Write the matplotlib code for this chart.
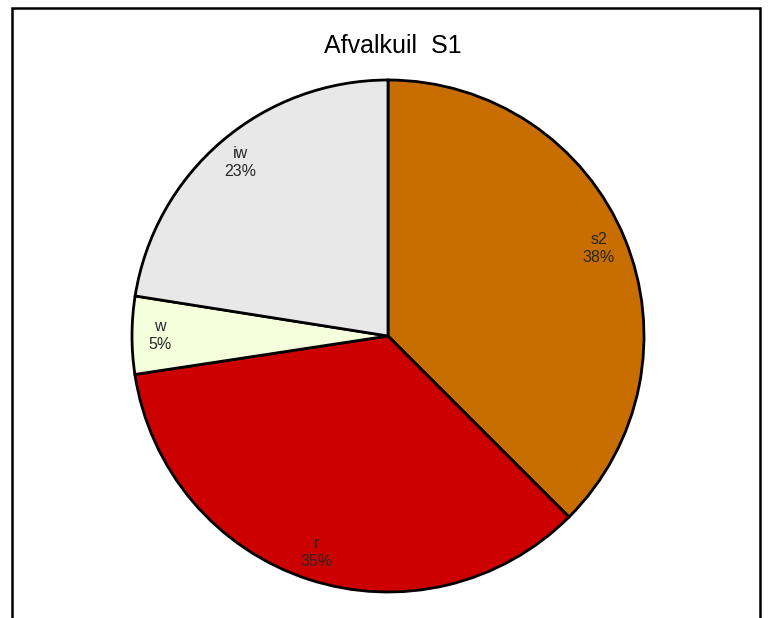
import matplotlib.pyplot as plt
from matplotlib.patches import Rectangle
import numpy as np

# data
categorieen = ['s2', 'r', 'w', 'iw']
aandeel = [37.5, 35.1, 4.9, 22.5]
kleuren = ['#C86E00', '#CC0000', '#F5FFDC', '#E8E8E8']
titel = 'Afvalkuil  S1'

W, H = 768, 618
fig = plt.figure(figsize=(W / 100, H / 100), dpi=100)
plt.rcParams['font.family'] = ['Liberation Sans', 'DejaVu Sans']

# frame around the plot area (bottom edge runs off the image)
fig.patches.append(Rectangle((12 / W, -0.05), (760 - 12) / W, 1.05 - 8 / H,
                             transform=fig.transFigure, fill=False,
                             edgecolor='black', linewidth=1.8, clip_on=False))

# pie centre and radius in pixels
cx, cy, R = 388, H - 336, 256
pad = 1.05
ax = fig.add_axes([(cx - R * pad) / W, (cy - R * pad) / H, 2 * R * pad / W, 2 * R * pad / H])

totaal = sum(aandeel)
labels = [f'{c}\n{int(np.floor(v / totaal * 100 + 0.5))}%' for c, v in zip(categorieen, aandeel)]

wedges, texts = ax.pie(aandeel, colors=kleuren, startangle=90, counterclock=False,
                       labels=labels, labeldistance=0.89,
                       wedgeprops=dict(edgecolor='black', linewidth=2),
                       textprops=dict(fontsize=11.5, color='#262626', linespacing=1.25))
for t in texts:
    t.set_horizontalalignment('center')
    t.set_verticalalignment('center')
ax.set_xlim(-pad, pad)
ax.set_ylim(-pad, pad)
ax.set_aspect('equal')
ax.axis('off')

fig.text(393 / W, 1 - 46 / H, titel, fontsize=18, ha='center', va='center', color='black')

fig.savefig('out.png', dpi=100)
